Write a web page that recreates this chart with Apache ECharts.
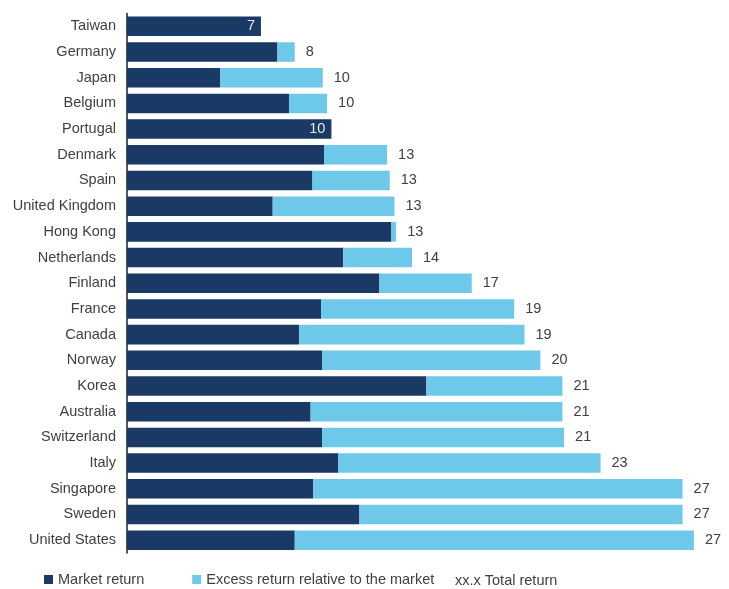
<!DOCTYPE html>
<html>
<head>
<meta charset="utf-8">
<script src="https://cdn.jsdelivr.net/npm/echarts@6/dist/echarts.min.js"></script>
<style>
html,body{margin:0;padding:0;background:#fff;}
#chart{width:729px;height:589px;}
</style>
</head>
<body>
<div id="chart"></div>
<script>
const categories = ['Taiwan','Germany','Japan','Belgium','Portugal','Denmark','Spain','United Kingdom','Hong Kong','Netherlands','Finland','France','Canada','Norway','Korea','Australia','Switzerland','Italy','Singapore','Sweden','United States'];
const marketReturn = [6.5,7.3,4.53,7.86,9.92,9.56,9.0,7.07,12.83,10.49,12.25,9.42,8.35,9.48,14.53,8.91,9.48,10.26,9.04,11.28,8.14];
const excessReturn = [0,0.84,4.97,1.85,0,3.06,3.75,5.91,0.23,3.34,4.48,9.37,10.94,10.58,6.60,12.22,11.73,12.72,17.92,15.68,19.37];
const totalLabels = ['7','8','10','10','10','13','13','13','13','14','17','19','19','20','21','21','21','23','27','27','27'];
const legendNames = ['Market return','Excess return relative to the market'];
const totalLegendText = 'xx.x Total return';

const DARK = '#1a3964', LIGHT = '#6ec8ea', TXT = '#404040';
const FONT = '"Liberation Sans", Arial, sans-serif';

const marketData = marketReturn.map((v, i) => {
  const item = { value: v };
  if (excessReturn[i] === 0) {
    item.label = { show: true, position: 'insideRight', distance: 6, color: '#e6e6e6',
      fontSize: 14.5, fontFamily: FONT, formatter: totalLabels[i] };
  }
  return item;
});
const excessData = excessReturn.map((v, i) => {
  const item = { value: v };
  if (v === 0) item.label = { show: false };
  return item;
});

const chart = echarts.init(document.getElementById('chart'), null, { renderer: 'canvas' });
chart.setOption({
  animation: false,
  backgroundColor: '#fff',
  textStyle: { fontFamily: FONT },
  grid: { left: 127, right: 25, top: 13.5, bottom: 36, containLabel: false },
  xAxis: { type: 'value', min: 0, max: 28, show: false },
  yAxis: {
    type: 'category', data: categories, inverse: true,
    axisLine: { show: true, lineStyle: { color: '#1e1e1e', width: 1.5 } },
    axisTick: { show: false },
    axisLabel: { color: TXT, fontSize: 14.5, fontFamily: FONT, margin: 11 }
  },
  legend: {
    data: legendNames,
    top: 572, left: 44, padding: 0,
    itemWidth: 9, itemHeight: 9, itemGap: 48,
    icon: 'rect',
    textStyle: { color: TXT, fontSize: 14.5, fontFamily: FONT }
  },
  graphic: [{
    type: 'text', left: 455, top: 573,
    style: { text: totalLegendText, fill: TXT, fontSize: 14.5, fontFamily: FONT }
  }],
  series: [
    {
      name: legendNames[0], type: 'bar', stack: 'tot', barWidth: '76%',
      itemStyle: { color: DARK },
      data: marketData
    },
    {
      name: legendNames[1], type: 'bar', stack: 'tot', barWidth: '76%',
      itemStyle: { color: LIGHT },
      label: {
        show: true, position: 'right', distance: 11, color: TXT,
        fontSize: 14.5, fontFamily: FONT,
        formatter: p => totalLabels[p.dataIndex]
      },
      data: excessData
    }
  ]
});
</script>
</body>
</html>
